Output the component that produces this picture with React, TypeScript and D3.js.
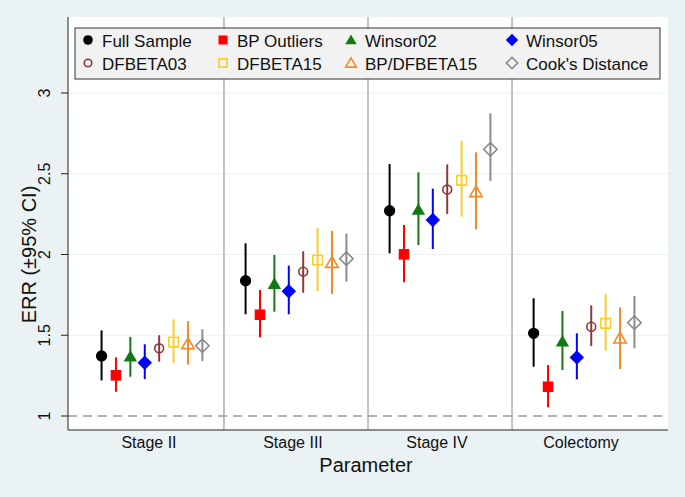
import React from "react";
import * as d3 from "d3";

const categories = ["Stage II", "Stage III", "Stage IV", "Colectomy"];
const seriesNames = ["Full Sample", "BP Outliers", "Winsor02", "Winsor05", "DFBETA03", "DFBETA15", "BP/DFBETA15", "Cook's Distance"];
const seriesColors = ["#000000", "#ff0000", "#127a12", "#0000ff", "#8b3a3a", "#f7d02a", "#f28a2a", "#8c8c8c"];
const seriesShapes = ["circle", "square", "triangle", "diamond", "circle", "square", "triangle", "diamond"];
const seriesFilled = [true, true, true, true, false, false, false, false];

// estimate per category for each series
const est = [
  [1.372, 1.838, 2.271, 1.512],
  [1.252, 1.627, 2.001, 1.181],
  [1.367, 1.817, 2.276, 1.46],
  [1.33, 1.772, 2.214, 1.363],
  [1.419, 1.894, 2.402, 1.553],
  [1.458, 1.966, 2.459, 1.574],
  [1.446, 1.949, 2.387, 1.481],
  [1.435, 1.974, 2.651, 1.578],
];
const lower = [
  [1.22, 1.63, 2.007, 1.305],
  [1.15, 1.487, 1.828, 1.054],
  [1.243, 1.646, 2.059, 1.285],
  [1.229, 1.63, 2.034, 1.227],
  [1.336, 1.763, 2.251, 1.433],
  [1.33, 1.774, 2.234, 1.404],
  [1.318, 1.755, 2.156, 1.291],
  [1.34, 1.832, 2.455, 1.419],
];
const upper = [
  [1.53, 2.069, 2.56, 1.729],
  [1.363, 1.78, 2.183, 1.316],
  [1.49, 1.997, 2.509, 1.65],
  [1.444, 1.931, 2.408, 1.512],
  [1.5, 2.02, 2.558, 1.685],
  [1.599, 2.166, 2.705, 1.755],
  [1.588, 2.147, 2.633, 1.673],
  [1.537, 2.13, 2.874, 1.743],
];
const yTicks = [1, 1.5, 2, 2.5, 3];
const yTickLabels = ["1", "1.5", "2", "2.5", "3"];

const W = 685, H = 497;
const plotL = 68, plotR = 668, plotT = 17, plotB = 430;
const FONT = "'Liberation Sans', Arial, Helvetica, sans-serif";

const x = d3.scaleLinear().domain([0.417, 4.583]).range([plotL, plotR]);
const y = d3.scaleLinear().domain([1, 3]).range([416, 93]);

function symPath(shape: string, filled: boolean, scale: number) {
  let type: d3.SymbolType = d3.symbolCircle;
  let size = 100;
  if (shape === "circle") size = filled ? 100 : 62;
  if (shape === "square") { type = d3.symbolSquare; size = filled ? 112 : 92; }
  if (shape === "triangle") { type = d3.symbolTriangle; size = filled ? 78 : 68; }
  if (shape === "diamond") { type = d3.symbolSquare; size = filled ? 105 : 90; }
  return d3.symbol().type(type).size(size * scale * scale)() as string;
}

function Marker({ i, cx, cy, scale = 1 }: { i: number; cx: number; cy: number; scale?: number }) {
  const filled = seriesFilled[i];
  const c = seriesColors[i];
  const shape = seriesShapes[i];
  const dy = shape === "triangle" ? 1 : 0;
  const rot = shape === "diamond" ? 45 : 0;
  return (
    <path
      d={symPath(shape, filled, scale)}
      transform={`translate(${cx},${cy + dy}) rotate(${rot})`}
      fill={filled ? c : "none"}
      stroke={c}
      strokeWidth={filled ? 0 : 1.6}
    />
  );
}

export default function App() {
  const offsets = seriesNames.map((_, i) => -0.35 + i * 0.1);
  const legendCols = [88, 223, 351, 512];
  const legendRows = [41, 64];
  return (
    <svg width={W} height={H} style={{ display: "block", position: "absolute", left: 0, top: 0 }}>
      <rect x={0} y={0} width={W} height={H} fill="#eaf2f3" />
      <rect x={plotL} y={plotT} width={plotR - plotL} height={plotB - plotT} fill="#ffffff" />
      {yTicks.slice(1).map((t) => (
        <line key={t} x1={plotL} x2={plotR} y1={y(t)} y2={y(t)} stroke="#eaf2f3" strokeWidth={1.2} />
      ))}
      {[1.5, 2.5, 3.5].map((d) => (
        <line key={d} x1={x(d)} x2={x(d)} y1={plotT} y2={plotB} stroke="#a3a3a3" strokeWidth={1.3} />
      ))}
      <line x1={plotL} x2={plotR} y1={y(1)} y2={y(1)} stroke="#9a9a9a" strokeWidth={1.3} strokeDasharray="9 6" />
      {/* axes */}
      <line x1={plotL} x2={plotL} y1={plotT} y2={plotB} stroke="#222" strokeWidth={1} />
      <line x1={plotL} x2={plotR} y1={plotB} y2={plotB} stroke="#222" strokeWidth={1} />
      {yTicks.map((t, k) => (
        <g key={t}>
          <line x1={plotL - 7} x2={plotL} y1={y(t)} y2={y(t)} stroke="#222" />
          <text
            transform={`translate(${50},${y(t)}) rotate(-90)`}
            textAnchor="middle"
            fontFamily={FONT}
            fontSize={16}
            fill="#111"
          >
            {yTickLabels[k]}
          </text>
        </g>
      ))}
      <text transform={`translate(36,${y(2)}) rotate(-90)`} textAnchor="middle" fontFamily={FONT} fontSize={20} fill="#111">
        ERR (±95% CI)
      </text>
      {categories.map((c, k) => (
        <text key={c} x={x(k + 1) - 3} y={448} textAnchor="middle" fontFamily={FONT} fontSize={16} fill="#111">
          {c}
        </text>
      ))}
      <text x={x(2.5) - 2} y={472} textAnchor="middle" fontFamily={FONT} fontSize={20} fill="#111">
        Parameter
      </text>
      {/* error bars and markers */}
      {seriesNames.map((s, i) => (
        <g key={s}>
          {categories.map((c, k) => {
            const cx = x(k + 1 + offsets[i]);
            return (
              <g key={c}>
                <line x1={cx} x2={cx} y1={y(lower[i][k])} y2={y(upper[i][k])} stroke={seriesColors[i]} strokeWidth={2} />
                <Marker i={i} cx={cx} cy={y(est[i][k])} />
              </g>
            );
          })}
        </g>
      ))}
      {/* legend */}
      <rect x={75} y={28} width={585} height={51} fill="#f2f2f2" stroke="#333" strokeWidth={1} />
      {seriesNames.map((s, i) => {
        const cx = legendCols[i % 4];
        const cy = legendRows[Math.floor(i / 4)];
        return (
          <g key={s}>
            <Marker i={i} cx={cx} cy={cy - 1} scale={0.85} />
            <text x={cx + 14} y={cy + 6} fontFamily={FONT} fontSize={17} fill="#111">
              {s}
            </text>
          </g>
        );
      })}
    </svg>
  );
}
